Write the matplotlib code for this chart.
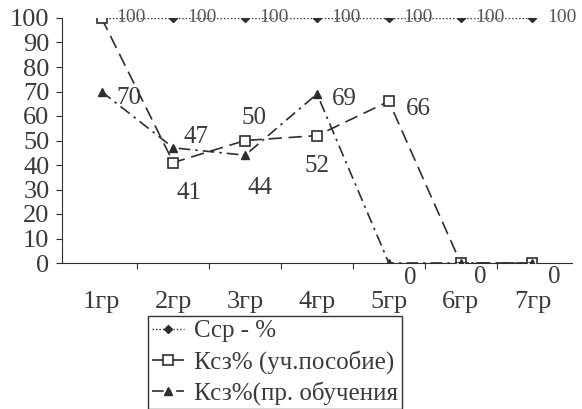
import matplotlib.pyplot as plt

plt.rcParams['font.family'] = ['Liberation Serif', 'DejaVu Serif']

groups = ["1гр", "2гр", "3гр", "4гр", "5гр", "6гр", "7гр"]
ccp = [100, 100, 100, 100, 100, 100, 100]
ksz_posobie = [100, 41, 50, 52, 66, 0, 0]
ksz_obuch = [70, 47, 44, 69, 0, 0, 0]

# label offsets in pixels (dx, dy) per point, None = no label
posobie_off = [None, (16, -30), (9, 22), (0, -30), (30, -8), (20, -14), (22, -14)]
obuch_off = [(27, -6), (23, 11), (15, -33), (27, -5), (21, -15), None, None]

fig = plt.figure(figsize=(5.82, 4.09), dpi=100)
ax = fig.add_axes([62 / 582, 146 / 409, 510 / 582, 245 / 409])

x = list(range(len(groups)))
c = "#2e2e2e"
tc = "#3a3a3a"
ax.plot(x, ccp, linestyle=(0, (1, 1.5)), color=c, lw=1, marker="D", ms=4.5, mfc=c, mec=c,
        label="Сср - %")
ax.plot(x, ksz_posobie, linestyle=(0, (8, 4)), color=c, lw=1.2, marker="s", ms=7,
        mfc="white", mec=c, mew=1.2, label="Ксз% (уч.пособие)", zorder=3)
ax.plot(x, ksz_obuch, linestyle=(0, (7, 3, 1.5, 3)), color=c, lw=1.2, marker="^", ms=6,
        mfc=c, mec=c, label="Ксз%(пр. обучения", zorder=3.5)

for i, v in enumerate(ccp):
    ax.annotate(str(v), (i, v), xytext=(29, 0), textcoords="offset pixels",
                ha="center", va="center", fontsize=14, color="#555555")
for i, v in enumerate(ksz_posobie):
    if posobie_off[i] is None:
        continue
    dx, dy = posobie_off[i]
    ax.annotate(str(v), (i, v), xytext=(dx, dy), textcoords="offset pixels",
                ha="center", va="center", fontsize=18, color=tc)
for i, v in enumerate(ksz_obuch):
    if obuch_off[i] is None:
        continue
    dx, dy = obuch_off[i]
    ax.annotate(str(v), (i, v), xytext=(dx, dy), textcoords="offset pixels",
                ha="center", va="center", fontsize=18, color=tc)

ax.set_xlim(-0.55, 6.55)
ax.set_ylim(0, 100)
ax.set_yticks(range(0, 101, 10))
ax.tick_params(axis="y", labelsize=19, length=4, direction="out", pad=5,
               labelcolor=tc, color=c)
ax.set_xticks([i + 0.5 for i in range(6)], minor=False)
ax.set_xticklabels([])
ax.set_xticks(x, minor=True)
ax.set_xticklabels(groups, minor=True)
ax.tick_params(axis="x", which="major", length=4, direction="out", color=c)
ax.tick_params(axis="x", which="minor", length=0, labelsize=19, pad=20, labelcolor=tc)
for s in ["top", "right"]:
    ax.spines[s].set_visible(False)
for s in ["left", "bottom"]:
    ax.spines[s].set_color(c)

leg = fig.legend(loc="upper left", bbox_to_anchor=(148 / 582, 1 - 316 / 409), fontsize=18,
                 frameon=True, fancybox=False, edgecolor="black", borderpad=0.15,
                 labelspacing=0.3, handlelength=1.3, handletextpad=0.4,
                 borderaxespad=0)
leg.get_frame().set_linewidth(1.0)
for t in leg.get_texts():
    t.set_color(tc)

fig.savefig("out.png", dpi=100)
